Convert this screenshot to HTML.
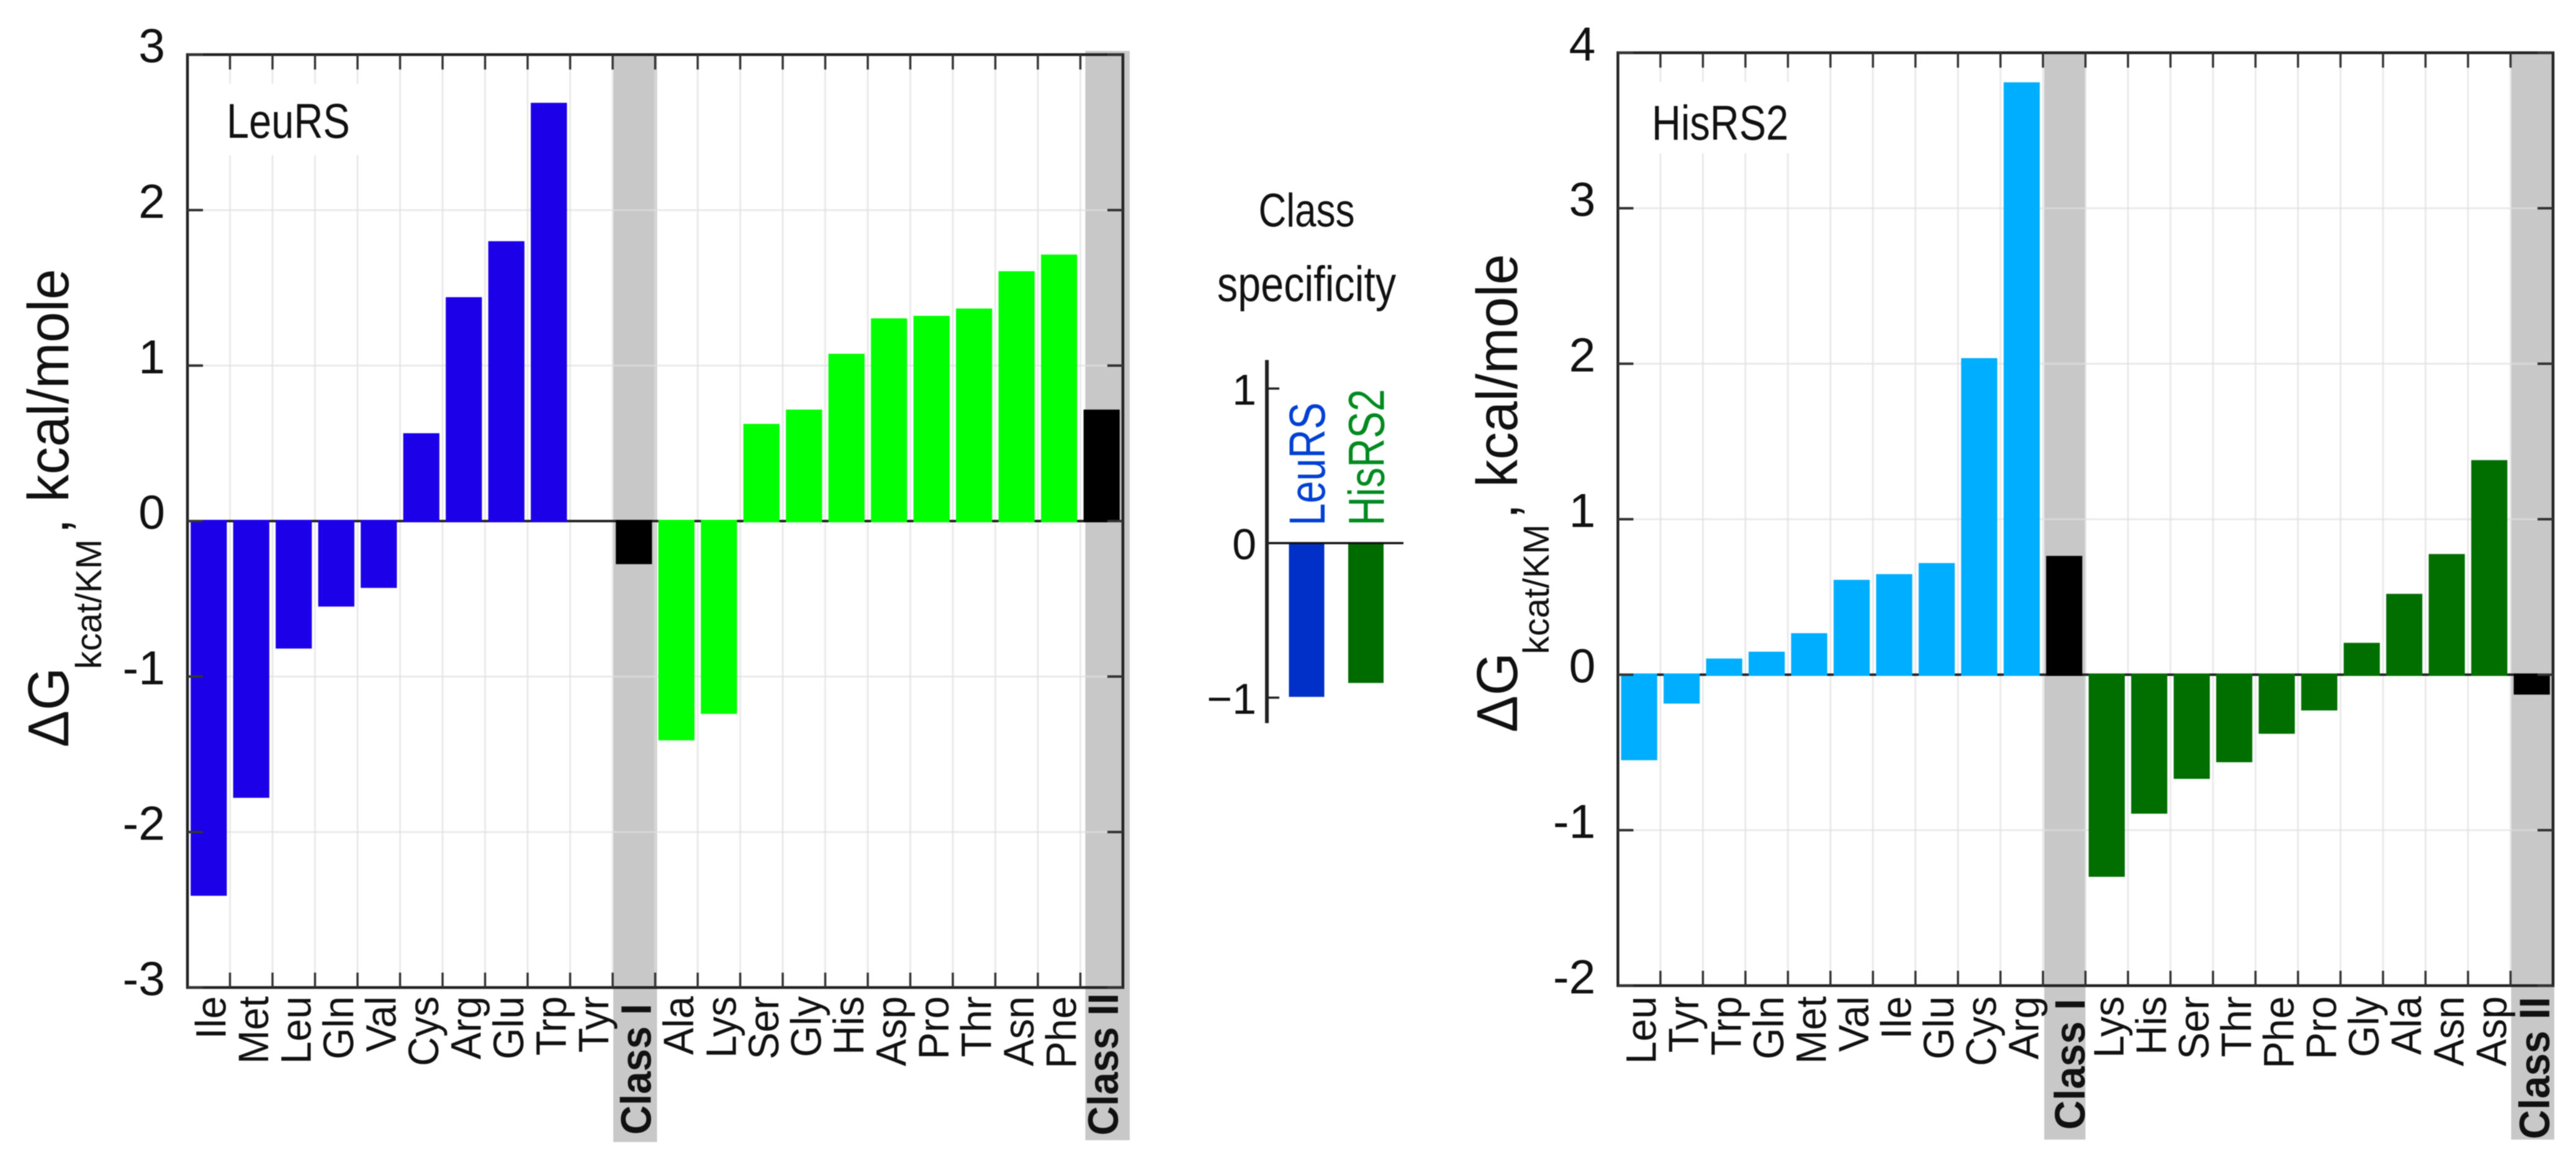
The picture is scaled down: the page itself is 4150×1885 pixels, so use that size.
<!DOCTYPE html>
<html lang="en">
<head>
<meta charset="utf-8">
<title>Class specificity of LeuRS and HisRS2</title>
<style>
html,body{margin:0;padding:0;background:#fff;width:4150px;height:1885px;overflow:hidden}
svg{display:block;font-family:"Liberation Sans",Arial,sans-serif;filter:blur(0.8px)}
text{fill:#111}
</style>
</head>
<body>
<svg id="figure" xmlns="http://www.w3.org/2000/svg" width="4150" height="1885" viewBox="0 0 4150 1885">
<rect width="4150" height="1885" fill="#fff"/>
<g>
<text transform="translate(110,1204) rotate(-90) scale(1,1.04)" font-size="89">ΔG</text>
<text transform="translate(163,1078) rotate(-90)" font-size="58">kcat/KM</text>
<text transform="translate(110,860) rotate(-90) scale(1,1.04)" font-size="89">,</text>
<text transform="translate(110,809) rotate(-90) scale(1,1.04)" font-size="89">kcal/mole</text>
</g>
<g>
<text transform="translate(2444,1180) rotate(-90) scale(1,1.04)" font-size="89">ΔG</text>
<text transform="translate(2495,1054) rotate(-90)" font-size="58">kcat/KM</text>
<text transform="translate(2444,836) rotate(-90) scale(1,1.04)" font-size="89">,</text>
<text transform="translate(2444,785) rotate(-90) scale(1,1.04)" font-size="89">kcal/mole</text>
</g>
<g>
<text transform="translate(2105,365) scale(1,1.22)" font-size="62" text-anchor="middle">Class</text>
<text transform="translate(2105,485) scale(1,1.2)" font-size="66.5" text-anchor="middle">specificity</text>
</g>
</svg>
<script>
const leuCategories = ["Ile","Met","Leu","Gln","Val","Cys","Arg","Glu","Trp","Tyr","Class I","Ala","Lys","Ser","Gly","His","Asp","Pro","Thr","Asn","Phe","Class II"];
const leuValues = [-2.41,-1.78,-0.82,-0.55,-0.43,0.565,1.44,1.80,2.69,0,-0.277,-1.41,-1.24,0.625,0.717,1.076,1.304,1.32,1.367,1.607,1.714,0.717];
const leuTicks = [3,2,1,0,-1,-2,-3];

const hisCategories = ["Leu","Tyr","Trp","Gln","Met","Val","Ile","Glu","Cys","Arg","Class I","Lys","His","Ser","Thr","Phe","Pro","Gly","Ala","Asn","Asp","Class II"];
const hisValues = [-0.55,-0.186,0.104,0.148,0.267,0.61,0.647,0.718,2.036,3.81,0.764,-1.30,-0.894,-0.67,-0.563,-0.38,-0.23,0.205,0.52,0.776,1.38,-0.128];
const hisTicks = [4,3,2,1,0,-1,-2];

const specCategories = ["LeuRS","HisRS2"];
const specValues = [-0.995,-0.905];
const specTicks = [1,0,-1];

const SVG_NS = "http://www.w3.org/2000/svg";
const figure = document.getElementById("figure");

function add(parent, tag, attrs, content) {
  const el = document.createElementNS(SVG_NS, tag);
  for (const key in attrs) el.setAttribute(key, attrs[key]);
  if (content !== undefined) el.textContent = content;
  parent.appendChild(el);
  return el;
}

function slug(s) {
  return String(s).toLowerCase().replace(/\s+/g, "-");
}

function drawPanel(cfg) {
  const n = cfg.categories.length;
  const band = (cfg.right - cfg.left) / n;
  const xEdge = i => cfg.left + band * i;
  const xCenter = i => xEdge(i) + band / 2;
  const yScale = v => cfg.top + (cfg.yMax - v) / (cfg.yMax - cfg.yMin) * (cfg.bottom - cfg.top);
  const y0 = yScale(0);

  const panel = add(figure, "g", {});
  
  

  // class highlight bands
  cfg.categories.forEach((cat, i) => {
    if (!cat.startsWith("Class")) return;
    const style = cat === "Class I" ? cfg.band1 : cfg.band2;
    if (style.rim) {
      const rim = add(panel, "rect", {x: cfg.right, y: style.top, width: style.rim, height: style.bottom - style.top, fill: "#dcdcdc"});
      
      
    }
    const b = add(panel, "rect", {x: xEdge(i) + style.d0, y: style.top, width: band + style.d1 - style.d0, height: style.bottom - style.top, fill: "#c8c8c8"});
    
    
  });

  // gridlines
  for (let i = 1; i < n; i++) {
    const g = add(panel, "line", {x1: xEdge(i), x2: xEdge(i), y1: cfg.top, y2: cfg.bottom, stroke: "rgba(222,222,222,0.65)", "stroke-width": 3});
    
    
  }
  cfg.ticks.forEach(t => {
    if (t === cfg.yMax || t === cfg.yMin || t === 0) return;
    const g = add(panel, "line", {x1: cfg.left, x2: cfg.right, y1: yScale(t), y2: yScale(t), stroke: "rgba(222,222,222,0.65)", "stroke-width": 3});
    
    
  });

  // panel label with white backing
  const box = add(panel, "rect", {x: cfg.left + 3, y: cfg.top + 47, width: cfg.boxWidth, height: 115, fill: "#fff"});
  
  
  const pl = add(panel, "text", {transform: "translate(" + cfg.labelX + "," + cfg.labelY + ") scale(1,1.22)", "font-size": 65}, cfg.title);
  
  

  // zero line
  const zero = add(panel, "line", {x1: cfg.left, x2: cfg.right, y1: y0, y2: y0, stroke: "#222", "stroke-width": 4});
  
  

  // bars
  const barW = band * 0.85;
  cfg.values.forEach((v, i) => {
    const cat = cfg.categories[i];
    const isClass = cat.startsWith("Class");
    const classIndex = cfg.categories.indexOf("Class I");
    const fill = isClass ? "#000" : (i < classIndex ? cfg.colorA : cfg.colorB);
    const yTop = v >= 0 ? yScale(v) : y0 - 2;
    const yBot = v >= 0 ? y0 + 2 : yScale(v);
    if (v === 0) return;
    const r = add(panel, "rect", {x: xCenter(i) - barW / 2, y: yTop, width: barW, height: yBot - yTop, fill: fill});
    
    
  });

  // axes frame
  const frame = add(panel, "rect", {x: cfg.left, y: cfg.top, width: cfg.right - cfg.left, height: cfg.bottom - cfg.top, fill: "none", stroke: "#222", "stroke-width": 4.5});
  
  

  // x ticks
  for (let i = 1; i < n; i++) {
    const t1 = add(panel, "line", {x1: xEdge(i), x2: xEdge(i), y1: cfg.top, y2: cfg.top + 24, stroke: "#333", "stroke-width": 3.5});
    
    
    const t2 = add(panel, "line", {x1: xEdge(i), x2: xEdge(i), y1: cfg.bottom - 24, y2: cfg.bottom, stroke: "#333", "stroke-width": 3.5});
    
    
  }

  // y ticks and labels
  cfg.ticks.forEach(t => {
    const y = yScale(t);
    const a = add(panel, "line", {x1: cfg.left, x2: cfg.left + 25, y1: y, y2: y, stroke: "#333", "stroke-width": 4});
    
    
    const b = add(panel, "line", {x1: cfg.right - 25, x2: cfg.right, y1: y, y2: y, stroke: "#333", "stroke-width": 4});
    
    
    const lab = add(panel, "text", {x: cfg.left - 36, y: y + 12.5, "font-size": 77, "text-anchor": "end"}, String(t));
    
    
  });

  // category labels
  cfg.categories.forEach((cat, i) => {
    const isClass = cat.startsWith("Class");
    const style = cat === "Class I" ? cfg.band1 : cfg.band2;
    const bx = xCenter(i) + (isClass ? style.labelDx : 27);
    const by = isClass ? style.labelY : 1605;
    const t = add(panel, "text", {transform: "translate(" + bx + "," + by + ") rotate(-90) scale(1,1.05)", "font-size": 65.5, "text-anchor": "end", "font-weight": isClass ? "bold" : "normal"}, cat);
    
    
  });
}

function drawInset() {
  const axisX = 2041;
  const zeroTop = 626;
  const unit = 249;
  const yScale = v => zeroTop + (1 - v) * unit;
  const xCenters = i => 2105 + i * 95.5;
  const barW = 57;
  const colors = ["#0030c8", "#006c00"];
  const textColors = ["#0040d4", "#008a20"];

  const inset = add(figure, "g", {});
  
  

  specValues.forEach((v, i) => {
    const y0 = yScale(0);
    const r = add(inset, "rect", {x: xCenters(i) - barW / 2, y: y0, width: barW, height: yScale(v) - y0, fill: colors[i]});
    
    
    const t = add(inset, "text", {transform: "translate(" + (xCenters(i) + 29) + ",847) rotate(-90) scale(1,1.25)", "font-size": 65, style: "fill:" + textColors[i]}, specCategories[i]);
    
    
  });

  const zero = add(inset, "line", {x1: axisX, x2: 2261, y1: yScale(0), y2: yScale(0), stroke: "#111", "stroke-width": 3.5});
  
  

  const axis = add(inset, "line", {x1: axisX, x2: axisX, y1: 580, y2: 1165, stroke: "#222", "stroke-width": 6});
  
  

  specTicks.forEach(t => {
    const y = yScale(t);
    if (t !== 0) {
      const tk = add(inset, "line", {x1: axisX, x2: 2061, y1: y, y2: y, stroke: "#222", "stroke-width": 3.5});
      
      
    }
    const lab = add(inset, "text", {x: 2024, y: y + 26, "font-size": 70, "text-anchor": "end"}, t < 0 ? "\u2212" + Math.abs(t) : String(t));
    
    
  });
}

drawPanel({
  name: "leurs", title: "LeuRS",
  categories: leuCategories, values: leuValues, ticks: leuTicks,
  left: 302, right: 1809, top: 88, bottom: 1591, yMin: -3, yMax: 3,
  colorA: "#1c00e8", colorB: "#00ff00",
  boxWidth: 295, labelX: 365, labelY: 222,
  band1: {d0: 1, d1: 3, top: 88, bottom: 1840, labelDx: 27, labelY: 1617},
  band2: {d0: 8, d1: 11, top: 82, bottom: 1837, labelDx: 26, labelY: 1600, rim: 11}
});

drawPanel({
  name: "hisrs2", title: "HisRS2",
  categories: hisCategories, values: hisValues, ticks: hisTicks,
  left: 2606.5, right: 4113, top: 85, bottom: 1588, yMin: -2, yMax: 4,
  colorA: "#00aeff", colorB: "#006f00",
  boxWidth: 295, labelX: 2661, labelY: 225,
  band1: {d0: 2, d1: 0, top: 85, bottom: 1836, labelDx: 33, labelY: 1609},
  band2: {d0: 1, d1: 2, top: 85, bottom: 1836, labelDx: 28, labelY: 1606}
});

drawInset();
</script>
</body>
</html>
